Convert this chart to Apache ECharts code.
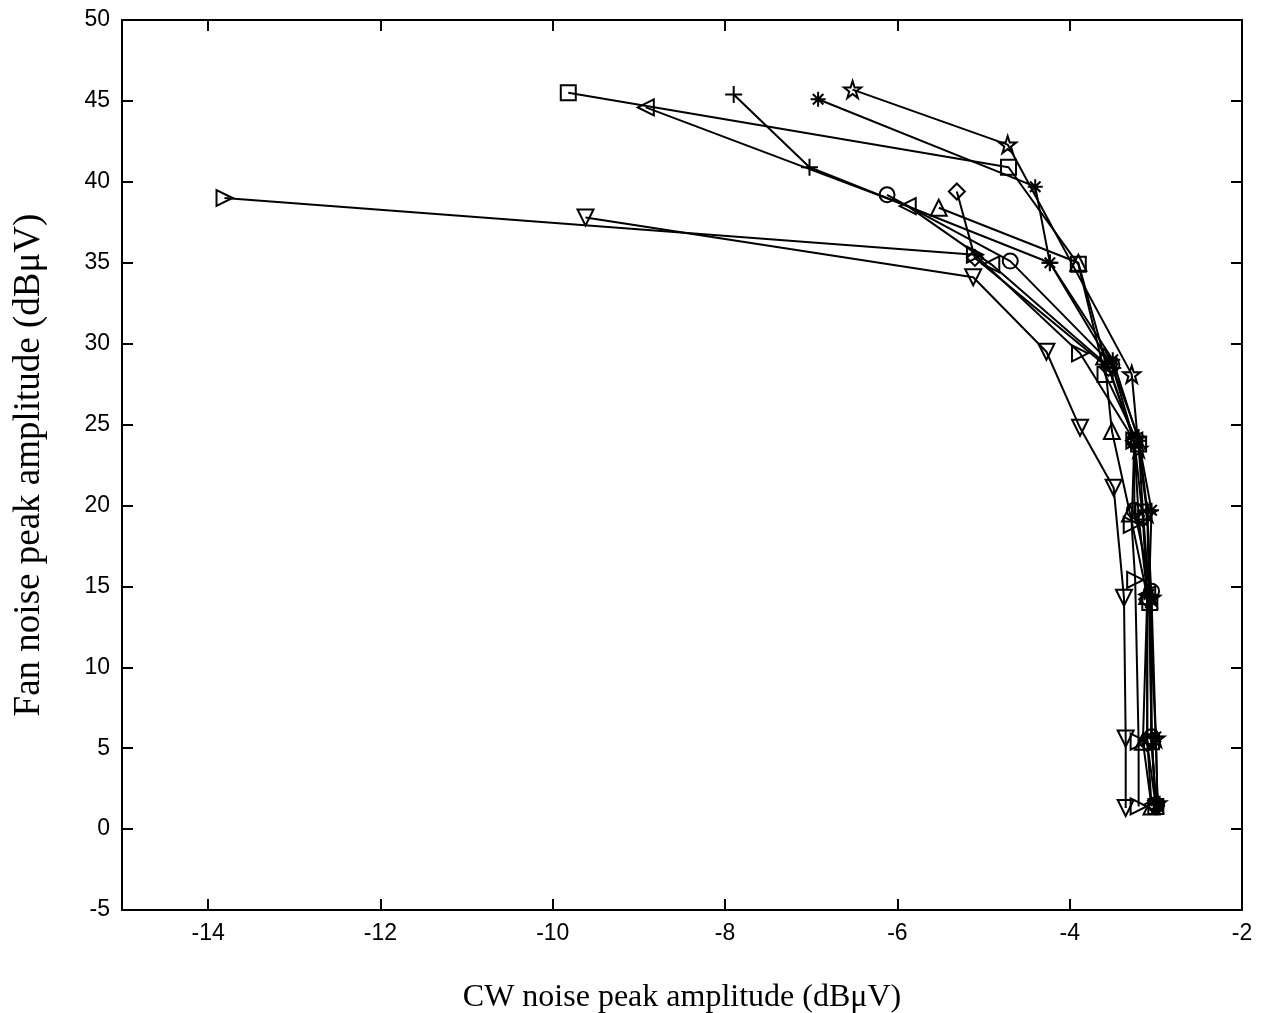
<!DOCTYPE html>
<html>
<head>
<meta charset="utf-8">
<script src="https://cdn.jsdelivr.net/npm/echarts@6/dist/echarts.min.js"></script>
<style>
  html, body { margin: 0; padding: 0; background: #fff; }
  #chart { width: 1261px; height: 1013px; }
</style>
</head>
<body>
<div id="chart"></div>
<script>
// Tick labels
const xTicks = [-14, -12, -10, -8, -6, -4, -2];
const yTicks = [-5, 0, 5, 10, 15, 20, 25, 30, 35, 40, 45, 50];

// Measured [CW peak, fan peak] pairs (dBuV), one run per marker
const squareRun   = [[-9.82,45.5],[-4.71,40.9],[-3.90,34.9],[-3.59,28.1],[-3.20,23.8],[-3.15,19.6],[-3.07,14.0],[-3.05,5.4],[-3.00,1.4]];
const leftTriRun  = [[-8.92,44.6],[-5.88,38.5],[-4.91,34.9],[-3.55,28.6],[-3.25,24.0],[-3.20,19.3],[-3.10,14.5],[-3.10,5.5],[-3.05,1.5]];
const plusRun     = [[-7.90,45.4],[-7.02,40.9],[-4.23,35.0],[-3.50,28.5],[-3.20,24.2],[-3.10,19.7],[-3.08,14.4],[-3.05,5.7],[-3.00,1.6]];
const asteriskRun = [[-6.92,45.1],[-4.40,39.7],[-4.23,35.0],[-3.50,29.0],[-3.20,24.0],[-3.05,19.7],[-3.08,14.5],[-3.00,5.7],[-2.98,1.5]];
const pentaRun    = [[-6.52,45.7],[-4.72,42.3],[-3.28,28.1],[-3.20,23.5],[-3.10,19.5],[-3.05,14.3],[-3.00,5.6],[-2.98,1.6]];
const rightTriRun = [[-13.81,39.0],[-5.10,35.5],[-3.88,29.4],[-3.25,24.0],[-3.28,18.8],[-3.24,15.4],[-3.20,5.4],[-3.20,1.4]];
const downTriRun  = [[-9.62,37.8],[-5.12,34.1],[-4.27,29.5],[-3.88,24.8],[-3.49,21.1],[-3.37,14.3],[-3.35,5.6],[-3.35,1.3]];
const circleRun   = [[-6.12,39.2],[-4.69,35.1],[-3.51,28.7],[-3.25,24.0],[-3.25,19.7],[-3.05,14.7],[-3.05,5.7],[-3.00,1.5]];
const diamondRun  = [[-5.31,39.4],[-5.10,35.3],[-3.55,28.5],[-3.25,24.0],[-3.15,19.2],[-3.10,14.2],[-3.10,5.3],[-3.00,1.4]];
const upTriRun    = [[-5.52,38.4],[-3.90,35.0],[-3.60,29.2],[-3.51,24.6],[-3.30,19.5],[-3.10,14.4],[-3.15,5.4],[-3.05,1.4]];

// Hollow marker outlines
const SYM = {
  square:   'rect',
  circle:   'circle',
  leftTri:  'path://M0,5 L10,0 L10,10 Z',
  rightTri: 'path://M10,5 L0,0 L0,10 Z',
  upTri:    'path://M5,0 L10,10 L0,10 Z',
  downTri:  'path://M0,0 L10,0 L5,10 Z',
  diamond:  'path://M5,0 L10,5 L5,10 L0,5 Z',
  plus:     'path://M5,0 L5,10 M0,5 L10,5',
  asterisk: 'path://M5,0 L5,10 M0,5 L10,5 M1.5,1.5 L8.5,8.5 M8.5,1.5 L1.5,8.5',
  penta:    'path://M50,0 L61.8,35.4 L99,35.4 L69,57.3 L80.3,92.7 L50,70.8 L19.7,92.7 L31,57.3 L1,35.4 L38.2,35.4 Z'
};

function run(name, data, symbol, size) {
  return {
    name: name,
    type: 'line',
    data: data,
    symbol: symbol,
    symbolSize: size,
    showSymbol: true,
    animation: false,
    lineStyle: { color: '#000', width: 2 },
    itemStyle: { color: 'rgba(0,0,0,0)', borderColor: '#000', borderWidth: 2 },
    z: 3
  };
}

const series = [
  run('square', squareRun, SYM.square, 15),
  run('leftTri', leftTriRun, SYM.leftTri, 16),
  run('plus', plusRun, SYM.plus, 17),
  run('asterisk', asteriskRun, SYM.asterisk, 15),
  run('penta', pentaRun, SYM.penta, 17),
  run('rightTri', rightTriRun, SYM.rightTri, 16),
  run('downTri', downTriRun, SYM.downTri, 16),
  run('circle', circleRun, SYM.circle, 15),
  run('diamond', diamondRun, SYM.diamond, 16),
  run('upTri', upTriRun, SYM.upTri, 16)
];

const labelFont = { color: '#000', fontFamily: 'Liberation Sans, Arial, sans-serif', fontSize: 23 };
const axisLine = { show: true, onZero: false, lineStyle: { color: '#000', width: 2 } };
const tickIn = { inside: true, length: 11, lineStyle: { color: '#000', width: 2 } };

const chart = echarts.init(document.getElementById('chart'), null, { renderer: 'canvas' });
chart.setOption({
  backgroundColor: '#fff',
  animation: false,
  grid: { left: 122, right: 19, top: 20, bottom: 103, containLabel: false, outerBoundsMode: 'none' },
  xAxis: [
    {
      type: 'value', min: -15, max: -2, position: 'bottom',
      axisLine: axisLine,
      axisTick: Object.assign({ customValues: xTicks }, tickIn),
      axisLabel: Object.assign({ customValues: xTicks, margin: 12 }, labelFont),
      splitLine: { show: false },
      name: 'CW noise peak amplitude (dB\u03bcV)',
      nameLocation: 'middle', nameGap: 72,
      nameTextStyle: { color: '#000', fontFamily: 'Liberation Serif, Times New Roman, serif', fontSize: 32 }
    },
    {
      type: 'value', min: -15, max: -2, position: 'top',
      axisLine: axisLine,
      axisTick: Object.assign({ customValues: xTicks }, tickIn),
      axisLabel: { show: false },
      splitLine: { show: false }
    }
  ],
  yAxis: [
    {
      type: 'value', min: -5, max: 50, interval: 5, position: 'left',
      axisLine: axisLine,
      axisTick: tickIn,
      axisLabel: Object.assign({ margin: 12 }, labelFont),
      splitLine: { show: false },
      name: 'Fan noise peak amplitude (dB\u03bcV)',
      nameLocation: 'middle', nameGap: 74, nameRotate: 90,
      nameTextStyle: { color: '#000', fontFamily: 'Liberation Serif, Times New Roman, serif', fontSize: 37 }
    },
    {
      type: 'value', min: -5, max: 50, interval: 5, position: 'right',
      axisLine: axisLine,
      axisTick: tickIn,
      axisLabel: { show: false },
      splitLine: { show: false }
    }
  ],
  series: series
});
</script>
</body>
</html>
